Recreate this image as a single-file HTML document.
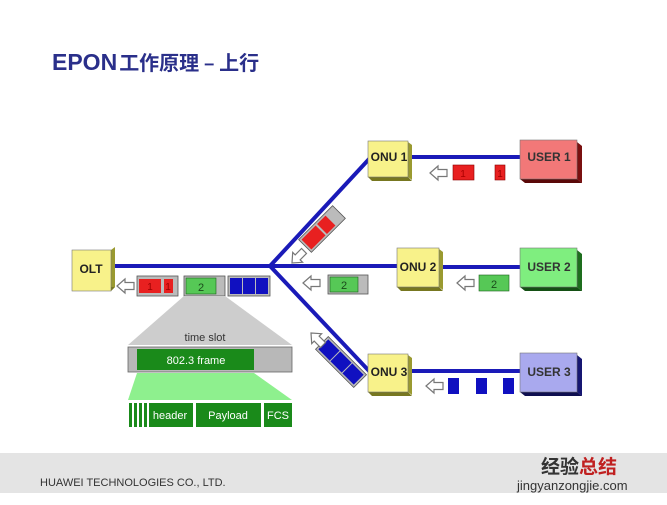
<!DOCTYPE html>
<html><head><meta charset="utf-8"><style>
body{margin:0;width:667px;height:500px;background:#fff;overflow:hidden;font-family:"Liberation Sans",sans-serif}
</style></head><body>
<svg width="667" height="500" xmlns="http://www.w3.org/2000/svg" font-family="Liberation Sans, sans-serif">
<defs>
<g id="arr"><path d="M0,0 L8,-7 L8,-3.5 L17,-3.5 L17,3.5 L8,3.5 L8,7 Z" fill="#fff" stroke="#777" stroke-width="1.2"/></g>
</defs>
<text x="52" y="70" font-size="23" font-weight="bold" fill="#2a2f8a">EPON<tspan font-family="Noto Sans CJK SC, sans-serif" font-size="20" dx="2">工作原理 – 上行</tspan></text>

<g stroke="#1a1ab8" stroke-width="4" fill="none">
<line x1="112" y1="266" x2="400" y2="266"/>
<line x1="440" y1="267" x2="522" y2="267"/>
<line x1="270" y1="266" x2="370" y2="158"/>
<line x1="270" y1="266" x2="370" y2="372"/>
<line x1="410" y1="157" x2="522" y2="157"/>
<line x1="410" y1="371" x2="522" y2="371"/>
</g>

<g font-weight="bold" font-size="12" text-anchor="middle">
<g><path d="M111,250 l4,-3 v40 l-4,4 z" fill="#9a9a30"/><path d="M72,291 h39 l4,-4 h-39 z" fill="#777720"/><rect x="72" y="250" width="39" height="41" fill="#f8f28a" stroke="#777" stroke-width="0.6"/><text x="91" y="273" fill="#222">OLT</text></g>
<g><path d="M408,142 l4,3 v35 l-4,-3 z" fill="#9a9a30"/><path d="M368,177 h40 l4,4 h-40z" fill="#777720"/><rect x="368" y="141" width="40" height="36" fill="#f8f28a" stroke="#777" stroke-width="0.6"/><text x="389" y="161" fill="#222">ONU 1</text></g>
<g><path d="M439,249 l4,3 v38 l-4,-3 z" fill="#9a9a30"/><path d="M397,287 h42 l4,4 h-42z" fill="#777720"/><rect x="397" y="248" width="42" height="39" fill="#f8f28a" stroke="#777" stroke-width="0.6"/><text x="418" y="271" fill="#222">ONU 2</text></g>
<g><path d="M408,355 l4,3 v37 l-4,-3 z" fill="#9a9a30"/><path d="M368,392 h40 l4,4 h-40z" fill="#777720"/><rect x="368" y="354" width="40" height="38" fill="#f8f28a" stroke="#777" stroke-width="0.6"/><text x="389" y="376" fill="#222">ONU 3</text></g>
<g><path d="M577,142 l5,4 v37 l-5,-4 z" fill="#7a1010"/><path d="M520,179 h57 l5,4 h-57z" fill="#5a0808"/><rect x="520" y="140" width="57" height="39" fill="#f27878" stroke="#777" stroke-width="0.6"/><text x="549" y="161" fill="#333">USER 1</text></g>
<g><path d="M577,250 l5,4 v37 l-5,-4 z" fill="#1e6e1e"/><path d="M520,287 h57 l5,4 h-57z" fill="#145014"/><rect x="520" y="248" width="57" height="39" fill="#7fee7f" stroke="#777" stroke-width="0.6"/><text x="549" y="271" fill="#333">USER 2</text></g>
<g><path d="M577,355 l5,4 v37 l-5,-4 z" fill="#161672"/><path d="M520,392 h57 l5,4 h-57z" fill="#0e0e50"/><rect x="520" y="353" width="57" height="39" fill="#a9a9ee" stroke="#777" stroke-width="0.6"/><text x="549" y="376" fill="#333">USER 3</text></g>
</g>

<use href="#arr" x="430" y="173"/>
<rect x="453" y="165" width="21" height="15" fill="#e82020" stroke="#8a0000" stroke-width="0.6"/>
<rect x="495" y="165" width="10" height="15" fill="#e82020" stroke="#8a0000" stroke-width="0.6"/>
<text x="463" y="177" font-size="10" text-anchor="middle" fill="#a00">1</text><text x="500" y="177" font-size="10" text-anchor="middle" fill="#900">1</text>
<use href="#arr" x="457" y="283"/>
<rect x="479" y="275" width="30" height="16" fill="#56c856" stroke="#1a601a" stroke-width="0.6"/><text x="494" y="288" font-size="11" text-anchor="middle" fill="#1a4a1a">2</text>
<use href="#arr" x="426" y="386"/>
<rect x="448" y="378" width="11" height="16" fill="#1010c0"/><rect x="476" y="378" width="11" height="16" fill="#1010c0"/><rect x="503" y="378" width="11" height="16" fill="#1010c0"/>
<use href="#arr" x="303" y="283"/>
<rect x="328" y="275" width="40" height="19" fill="#bbb" stroke="#555" stroke-width="0.8"/>
<rect x="330" y="277" width="28" height="15" fill="#56c856" stroke="#1a601a" stroke-width="0.6"/><text x="344" y="289" font-size="11" text-anchor="middle" fill="#1a4a1a">2</text>

<g transform="translate(322,229) rotate(-45)">
<rect x="-24" y="-9" width="48" height="18" fill="#bbb" stroke="#555" stroke-width="0.8"/>
<rect x="-22" y="-7" width="20" height="14" fill="#e82020"/><rect x="0" y="-7" width="12" height="14" fill="#e82020"/>
</g>
<use href="#arr" transform="translate(292,263) rotate(-45)"/>
<g transform="translate(341,362) rotate(45)">
<rect x="-27" y="-9" width="54" height="18" fill="#bbb" stroke="#555" stroke-width="0.8"/>
<rect x="-25" y="-7" width="16" height="14" fill="#1010c0"/><rect x="-8" y="-7" width="16" height="14" fill="#1010c0"/><rect x="9" y="-7" width="16" height="14" fill="#1010c0"/>
</g>
<use href="#arr" transform="translate(311,333) rotate(45)"/>

<use href="#arr" x="117" y="286"/>
<rect x="137" y="276" width="41" height="20" fill="#bbb" stroke="#555" stroke-width="0.8"/>
<rect x="139" y="279" width="22" height="14" fill="#e82020"/><rect x="164" y="279" width="9" height="14" fill="#e82020"/>
<text x="150" y="290" font-size="10" text-anchor="middle" fill="#900">1</text><text x="168" y="290" font-size="10" text-anchor="middle" fill="#900">1</text>
<rect x="184" y="276" width="41" height="20" fill="#bbb" stroke="#555" stroke-width="0.8"/>
<rect x="186" y="278" width="30" height="16" fill="#56c856" stroke="#1a601a" stroke-width="0.6"/><text x="201" y="291" font-size="11" text-anchor="middle" fill="#1a4a1a">2</text>
<rect x="228" y="276" width="42" height="20" fill="#bbb" stroke="#555" stroke-width="0.8"/>
<rect x="230" y="278" width="12" height="16" fill="#1010c0"/><rect x="243" y="278" width="12" height="16" fill="#1010c0"/><rect x="256" y="278" width="12" height="16" fill="#1010c0"/>

<path d="M184,296 L225,296 L292,345 L128,345 Z" fill="#cdcdcd"/>
<text x="205" y="341" font-size="11" text-anchor="middle" fill="#333">time slot</text>
<rect x="128" y="347" width="164" height="25" fill="#b8b8b8" stroke="#666" stroke-width="0.8"/>
<rect x="137" y="349" width="117" height="21" fill="#1a8a1a"/>
<text x="196" y="364" font-size="11" text-anchor="middle" fill="#fff">802.3 frame</text>
<path d="M137,373 L254,373 L292,400 L128,400 Z" fill="#8ef08e"/>
<g fill="#1a8a1a"><rect x="129" y="403" width="3" height="24"/><rect x="134" y="403" width="3" height="24"/><rect x="139" y="403" width="3" height="24"/><rect x="144" y="403" width="3" height="24"/>
<rect x="149" y="403" width="44" height="24"/><rect x="196" y="403" width="65" height="24"/><rect x="264" y="403" width="28" height="24"/></g>
<g font-size="11" fill="#fff" text-anchor="middle"><text x="170" y="419">header</text><text x="228" y="419">Payload</text><text x="278" y="419">FCS</text></g>

<rect x="0" y="453" width="667" height="40" fill="#e4e4e4"/>
<text x="40" y="486" font-size="11" fill="#333">HUAWEI TECHNOLOGIES CO., LTD.</text>
<text x="541" y="473" font-size="19" font-weight="bold" fill="#333" font-family="Noto Sans CJK SC, sans-serif">经验<tspan fill="#c02020">总结</tspan></text>
<text x="517" y="490" font-size="13" fill="#333">jingyanzongjie.com</text>
</svg>
</body></html>
